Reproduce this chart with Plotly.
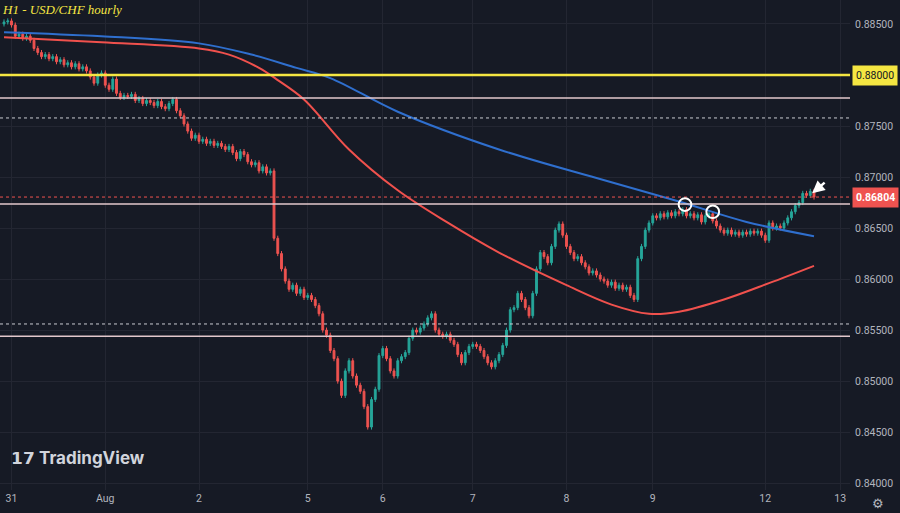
import plotly.graph_objects as go

# ---- data: USD/CHF hourly closes (candle index 0..216) ----
FIRST_OPEN = 0.8850
CLOSES = [
    0.8852, 0.8853, 0.8849, 0.8838, 0.8840, 0.8836, 0.8838, 0.8834, 0.8826, 0.8822, 0.8818, 0.8820,
    0.8816, 0.8818, 0.8813, 0.8815, 0.8810, 0.8812, 0.8808, 0.8811, 0.8806, 0.8808, 0.8804, 0.8798,
    0.8792, 0.8800, 0.8802, 0.8790, 0.8786, 0.8796, 0.8782, 0.8778, 0.8780, 0.8779, 0.8781, 0.8775,
    0.8777, 0.8772, 0.8775, 0.8773, 0.8770, 0.8774, 0.8769, 0.8767, 0.8772, 0.8776, 0.8765, 0.8760,
    0.8752, 0.8745, 0.8738, 0.8741, 0.8735, 0.8737, 0.8733, 0.8735, 0.8731, 0.8733, 0.8730, 0.8727,
    0.8730, 0.8724, 0.8718, 0.8725, 0.8722, 0.8715, 0.8712, 0.8714, 0.8706, 0.8710, 0.8704, 0.8706,
    0.8640, 0.8625, 0.8610, 0.8598, 0.8590, 0.8594, 0.8586, 0.8590, 0.8582, 0.8584, 0.8580, 0.8574,
    0.8566, 0.8550, 0.8545, 0.8530, 0.8522, 0.8500, 0.8486, 0.8510, 0.8520, 0.8505, 0.8496, 0.8490,
    0.8475, 0.8455, 0.8482, 0.8492, 0.8525, 0.8532, 0.8522, 0.8510, 0.8505, 0.8520, 0.8524, 0.8528,
    0.8542, 0.8550, 0.8548, 0.8552, 0.8556, 0.8562, 0.8566, 0.8550, 0.8546, 0.8544, 0.8546, 0.8540,
    0.8536, 0.8526, 0.8518, 0.8528, 0.8534, 0.8536, 0.8534, 0.8530, 0.8524, 0.8518, 0.8514, 0.8520,
    0.8526, 0.8535, 0.8550, 0.8570, 0.8572, 0.8586, 0.8580, 0.8572, 0.8564, 0.8586, 0.8610, 0.8626,
    0.8622, 0.8616, 0.8632, 0.8648, 0.8654, 0.8643, 0.8632, 0.8626, 0.8620, 0.8622, 0.8616, 0.8612,
    0.8606, 0.8608, 0.8604, 0.8600, 0.8598, 0.8594, 0.8597, 0.8591, 0.8594, 0.8590, 0.8592, 0.8584,
    0.8580, 0.8620, 0.8632, 0.8648, 0.8655, 0.8662, 0.8660, 0.8664, 0.8661, 0.8665, 0.8662, 0.8666,
    0.8664, 0.8668, 0.8662, 0.8664, 0.8660, 0.8663, 0.8656, 0.8662, 0.8664, 0.8657, 0.8652, 0.8648,
    0.8645, 0.8648, 0.8644, 0.8646, 0.8643, 0.8646, 0.8644, 0.8647, 0.8645, 0.8647, 0.8643, 0.8638,
    0.8655, 0.8650, 0.8652, 0.8650, 0.8655, 0.8660, 0.8666, 0.8672, 0.8675, 0.8684, 0.8682, 0.8686,
    0.86804,
]
WICK = 0.00025

# moving averages (sampled at candle indices)
MA_BLUE_X = [0, 26, 52, 66, 78, 87, 105, 132, 158, 180, 198, 216]
MA_BLUE_Y = [0.8842, 0.8838, 0.8831, 0.8820, 0.8807, 0.8797, 0.8764, 0.8727, 0.8699, 0.8676, 0.8656, 0.8642]
MA_RED_X = [0, 26, 52, 60, 68, 73, 80, 92, 105, 118, 132, 150, 162, 172, 180, 192, 204, 216]
MA_RED_Y = [0.8837, 0.8832, 0.8826, 0.8820, 0.8807, 0.8795, 0.8776, 0.8727, 0.8687, 0.8656, 0.8626,
            0.8594, 0.8575, 0.8566, 0.8568, 0.8580, 0.8596, 0.8613]

# day labels
TICK_POS = [2, 27, 52, 81, 101, 125, 150, 173, 203, 223]
TICK_TEXT = ['31', 'Aug', '2', '5', '6', '7', '8', '9', '12', '13']

# horizontal levels
SOLID_LEVELS = [0.87775, 0.86736, 0.8544]
DOTTED_LEVELS = [0.87579, 0.8556]
YELLOW_LEVEL = 0.8800
LAST = CLOSES[-1]

BG = '#161a25'
GRID = '#232632'
TXT = '#b2b5be'

idx = list(range(len(CLOSES)))
opens = [FIRST_OPEN] + CLOSES[:-1]
highs = [max(o, c) + WICK for o, c in zip(opens, CLOSES)]
lows = [min(o, c) - WICK for o, c in zip(opens, CLOSES)]

fig = go.Figure()
fig.add_trace(go.Scatter(x=MA_RED_X, y=MA_RED_Y, mode='lines', line=dict(color='#f0514d', width=2, shape='spline'),
                         hoverinfo='skip'))
fig.add_trace(go.Scatter(x=MA_BLUE_X, y=MA_BLUE_Y, mode='lines', line=dict(color='#2f6fce', width=2, shape='spline'),
                         hoverinfo='skip'))
fig.add_trace(go.Candlestick(
    x=idx, open=opens, high=highs, low=lows, close=CLOSES,
    increasing=dict(line=dict(color='#26a69a', width=1), fillcolor='#26a69a'),
    decreasing=dict(line=dict(color='#ef5350', width=1), fillcolor='#ef5350'),
    whiskerwidth=0,
))

for lv in SOLID_LEVELS:
    fig.add_hline(y=lv, line=dict(color='#e3c8cc', width=1.5))
for lv in DOTTED_LEVELS:
    fig.add_hline(y=lv, line=dict(color='#c9cbd1', width=1, dash='dot'))
fig.add_hline(y=LAST, line=dict(color='#ef5350', width=1, dash='dot'))
fig.add_hline(y=YELLOW_LEVEL, line=dict(color='#f5e642', width=2.5))

# circles at the MA touches
for cx, cy in [(181.6, 0.8673), (189, 0.8666)]:
    fig.add_shape(type='circle', xref='x', yref='y', x0=cx - 1.7, x1=cx + 1.7, y0=cy - 0.00062, y1=cy + 0.00062,
                  line=dict(color='white', width=2))

# price labels on the axis
fig.add_annotation(xref='paper', x=1.0, xanchor='left', xshift=2, y=YELLOW_LEVEL, yref='y', text='0.88000',
                   showarrow=False, bgcolor='#f5e642', font=dict(color='#131722', size=10.5, family='Roboto'),
                   borderpad=3)
fig.add_annotation(xref='paper', x=1.0, xanchor='left', xshift=2, y=LAST, yref='y', text='<b>0.86804</b>',
                   showarrow=False, bgcolor='#ef5350', font=dict(color='white', size=10.5, family='Roboto'),
                   borderpad=3)

# arrow
fig.add_annotation(x=215.5, y=0.8684, ax=14, ay=-12, xref='x', yref='y', text='', showarrow=True,
                   arrowhead=2, arrowsize=1, arrowwidth=2.5, arrowcolor='white')

fig.add_annotation(xref='paper', yref='paper', x=0.0, y=1.0, xanchor='left', yanchor='top',
                   text='<i>H1 - USD/CHF hourly</i>', showarrow=False,
                   font=dict(color='#f5e642', size=13, family='Liberation Serif'))
fig.add_annotation(xref='paper', yref='paper', x=0.01, y=0.04, xanchor='left', yanchor='bottom',
                   text='<b>𝟭𝟳 TradingView</b>', showarrow=False,
                   font=dict(color='#d1d4dc', size=17, family='Inter'))
fig.add_annotation(xref='paper', yref='paper', x=1.0, y=0, xanchor='center', yanchor='middle',
                   xshift=28, yshift=-13, text='⚙', showarrow=False, font=dict(color=TXT, size=13))

fig.update_layout(
    width=900, height=513,
    margin=dict(l=0, r=50, t=0, b=23, autoexpand=False),
    paper_bgcolor=BG, plot_bgcolor=BG,
    showlegend=False,
    font=dict(family='Roboto', color=TXT, size=10.5),
    xaxis=dict(range=[-1.07, 225.6], tickvals=TICK_POS, ticktext=TICK_TEXT, showgrid=True, gridcolor=GRID,
               zeroline=False, rangeslider=dict(visible=False), ticks='', showline=False),
    yaxis=dict(range=[0.83933, 0.88735], side='right', dtick=0.005, tickformat='.5f', showgrid=True,
               gridcolor=GRID, zeroline=False, ticks='', showline=False, ticklabelstandoff=4),
)

fig.write_html('out.html', config={'displayModeBar': False},
               post_script="document.body.style.margin='0';")
